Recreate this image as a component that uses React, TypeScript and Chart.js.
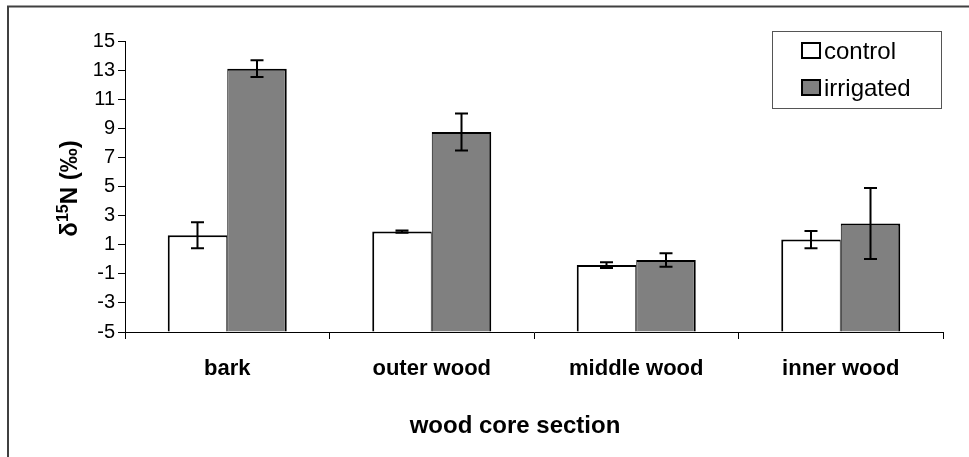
import React, { useEffect, useRef } from "react";
import { Chart, registerables } from "chart.js";

Chart.register(...registerables);

// Wood core sections and δ15N means (‰) with error bar half-widths
const SECTIONS = ["bark", "outer wood", "middle wood", "inner wood"];
const CONTROL = [1.65, 1.9, -0.4, 1.35];
const CONTROL_ERR = [0.9, 0.08, 0.2, 0.6];
const IRRIGATED = [13.1, 8.75, -0.05, 2.45];
const IRRIGATED_ERR = [0.57, 1.27, 0.47, 2.44];
const Y_TICKS = [-5, -3, -1, 1, 3, 5, 7, 9, 11, 13, 15];
const Y_MIN = -5;
const Y_MAX = 15;
const SERIES_NAMES = ["control", "irrigated"];

const FONT = '"Liberation Sans", Arial, Helvetica, sans-serif';
const CONTROL_FILL = "#ffffff";
const IRRIGATED_FILL = "#808080";

const errorBars = {
  id: "errorBars",
  afterDatasetsDraw(chart: any) {
    const ctx = chart.ctx;
    const yScale = chart.scales.y;
    const errs = [CONTROL_ERR, IRRIGATED_ERR];
    ctx.save();
    ctx.strokeStyle = "#000";
    ctx.lineWidth = 2;
    chart.data.datasets.forEach((ds: any, i: number) => {
      const meta = chart.getDatasetMeta(i);
      meta.data.forEach((bar: any, j: number) => {
        const v = ds.data[j];
        const e = errs[i][j];
        const x = bar.x;
        const yTop = yScale.getPixelForValue(v + e);
        const yBot = yScale.getPixelForValue(v - e);
        const cap = 6.5;
        ctx.beginPath();
        ctx.moveTo(x, yTop);
        ctx.lineTo(x, yBot);
        ctx.moveTo(x - cap, yTop);
        ctx.lineTo(x + cap, yTop);
        ctx.moveTo(x - cap, yBot);
        ctx.lineTo(x + cap, yBot);
        ctx.stroke();
      });
    });
    ctx.restore();
  },
};

const decorations = {
  id: "decorations",
  afterDraw(chart: any) {
    const ctx = chart.ctx;
    const area = chart.chartArea;
    ctx.save();

    // outer frame (runs off the right and bottom edges)
    ctx.strokeStyle = "#404040";
    ctx.lineWidth = 2;
    ctx.strokeRect(8, 6.5, 1100, 600);

    // y-axis title with superscript mass number
    const cy = (area.top + area.bottom) / 2 + 2;
    ctx.save();
    ctx.translate(77, cy);
    ctx.rotate(-Math.PI / 2);
    ctx.fillStyle = "#000";
    ctx.textBaseline = "alphabetic";
    const big = "bold 24px " + FONT;
    const small = "bold 16px " + FONT;
    ctx.font = big;
    const wDelta = ctx.measureText("δ").width;
    const wRest = ctx.measureText("N (‰)").width;
    ctx.font = small;
    const wSup = ctx.measureText("15").width;
    let x = -(wDelta + wSup + wRest) / 2;
    ctx.font = big;
    ctx.fillText("δ", x, 0);
    x += wDelta;
    ctx.font = small;
    ctx.fillText("15", x, -9);
    x += wSup;
    ctx.font = big;
    ctx.fillText("N (‰)", x, 0);
    ctx.restore();

    // x-axis title
    ctx.fillStyle = "#000";
    ctx.font = "bold 24px " + FONT;
    ctx.textAlign = "center";
    ctx.textBaseline = "alphabetic";
    ctx.fillText("wood core section", 515, 433);

    // legend box
    const lx = 772;
    const ly = 31;
    ctx.strokeStyle = "#555";
    ctx.lineWidth = 1;
    ctx.strokeRect(lx + 0.5, ly + 0.5, 169, 77);
    const fills = [CONTROL_FILL, IRRIGATED_FILL];
    const baselines = [59, 96];
    ctx.textAlign = "left";
    ctx.font = "24px " + FONT;
    SERIES_NAMES.forEach((name, i) => {
      const sy = baselines[i] - 17;
      ctx.fillStyle = "#000";
      ctx.fillRect(801, sy, 20, 17);
      ctx.fillStyle = fills[i];
      ctx.fillRect(803, sy + 2, 16, 13);
      ctx.fillStyle = "#000";
      ctx.fillText(name, 824, baselines[i]);
    });

    ctx.restore();
  },
};

export default function App() {
  const canvasRef = useRef<HTMLCanvasElement | null>(null);

  useEffect(() => {
    const canvas = canvasRef.current;
    if (!canvas) return;
    const chart = new Chart(canvas, {
      type: "bar",
      data: {
        labels: SECTIONS,
        datasets: [
          {
            label: SERIES_NAMES[0],
            data: CONTROL,
            base: Y_MIN,
            backgroundColor: CONTROL_FILL,
            borderColor: "#000",
            borderWidth: { top: 2, left: 2, right: 1, bottom: 0 },
            borderSkipped: "start",
          },
          {
            label: SERIES_NAMES[1],
            data: IRRIGATED,
            base: Y_MIN,
            backgroundColor: IRRIGATED_FILL,
            borderColor: "#000",
            borderWidth: { top: 2, left: 1, right: 2, bottom: 0 },
            borderSkipped: "start",
          },
        ] as any,
      },
      options: {
        responsive: false,
        animation: false,
        devicePixelRatio: 1,
        layout: { padding: { left: 0, right: 26, top: 41, bottom: 0 } },
        datasets: {
          bar: { categoryPercentage: 0.582, barPercentage: 1 },
        },
        plugins: {
          legend: { display: false },
          tooltip: { enabled: false },
          title: { display: false },
        },
        scales: {
          x: {
            offset: true,
            grid: {
              offset: true,
              drawOnChartArea: false,
              drawTicks: true,
              tickLength: 7,
              color: "#000",
              lineWidth: 1,
            },
            border: { display: true, color: "#000", width: 1 },
            ticks: {
              color: "#000",
              padding: 17,
              maxRotation: 0,
              font: { family: FONT, size: 22, weight: "bold" },
            },
            afterFit(scale: any) {
              scale.height = 125;
            },
          },
          y: {
            min: Y_MIN,
            max: Y_MAX,
            grid: {
              drawOnChartArea: false,
              drawTicks: true,
              tickLength: 7,
              color: "#000",
              lineWidth: 1,
            },
            border: { display: true, color: "#000", width: 1 },
            ticks: {
              color: "#000",
              padding: 3,
              font: { family: FONT, size: 20 },
            },
            afterBuildTicks(scale: any) {
              scale.ticks = Y_TICKS.map((v) => ({ value: v }));
            },
            afterFit(scale: any) {
              scale.width = 125;
            },
          },
        },
      } as any,
      plugins: [errorBars, decorations],
    });
    return () => chart.destroy();
  }, []);

  return (
    <div
      style={{
        position: "fixed",
        left: 0,
        top: 0,
        width: 969,
        height: 457,
        background: "#fff",
      }}
    >
      <canvas ref={canvasRef} width={969} height={457} style={{ display: "block" }} />
    </div>
  );
}
